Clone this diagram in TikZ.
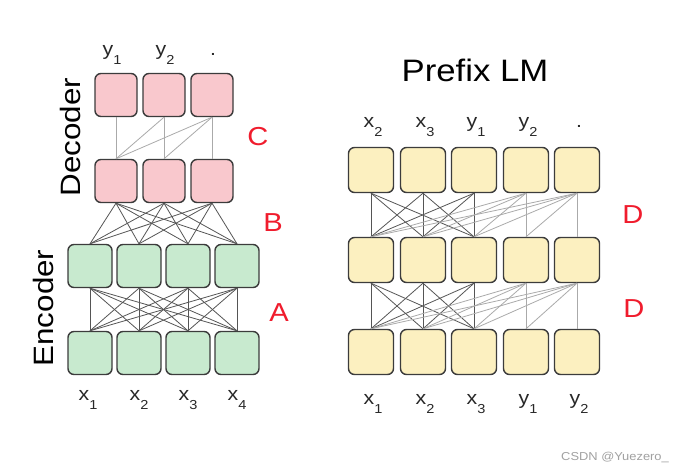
\documentclass[tikz,border=0pt]{standalone}
\usepackage{fontspec}
\setmainfont{Liberation Sans}[FakeStretch=1.12]
\newcommand\lowsub[1]{\raisebox{-9pt}{\fontsize{13}{13}\selectfont #1}}
\definecolor{pinkf}{RGB}{249,200,205}
\definecolor{greenf}{RGB}{200,234,207}
\definecolor{yellowf}{RGB}{252,240,192}
\definecolor{boxline}{RGB}{60,60,60}
\definecolor{darkl}{RGB}{85,85,85}
\definecolor{lightl}{RGB}{170,170,170}
\definecolor{redl}{RGB}{240,28,45}
\definecolor{txt}{RGB}{40,40,40}
\tikzset{
  cell/.style={draw=boxline, line width=1.4pt, rounded corners=6pt, minimum width=43pt, minimum height=43pt, inner sep=0pt},
  pinkcell/.style={cell, fill=pinkf, minimum width=42pt},
  greencell/.style={cell, fill=greenf, minimum width=44pt},
  yellowcell/.style={cell, fill=yellowf, minimum width=45pt, minimum height=45pt},
  dk/.style={draw=darkl, line width=0.8pt},
  lt/.style={draw=lightl, line width=0.8pt},
  tok/.style={anchor=base, inner sep=0pt, text=txt, font=\fontsize{19}{19}\selectfont},
  tag/.style={text=redl, inner sep=0pt, font=\fontsize{26}{26}\selectfont},
  side/.style={rotate=90, inner sep=0pt, text=black, font=\fontsize{28}{28}\selectfont}
}
\begin{document}
\begin{tikzpicture}[x=1pt,y=-1pt]
\useasboundingbox[fill=white] (0,0) rectangle (683,472);
% decoder
\foreach \i/\x in {1/116,2/164,3/212} {
  \node[pinkcell] (d\i) at (\x,95) {};
  \node[pinkcell] (e\i) at (\x,181) {};
}
% encoder
\foreach \i/\x in {1/90,2/139,3/188,4/237} {
  \node[greencell] (n\i) at (\x,266) {};
  \node[greencell] (m\i) at (\x,353) {};
}
% prefix LM
\foreach \i/\x in {1/371,2/423,3/474,4/526,5/577} {
  \node[yellowcell] (p\i) at (\x,170) {};
  \node[yellowcell] (q\i) at (\x,260) {};
  \node[yellowcell] (r\i) at (\x,352) {};
}
% C: causal decoder
\foreach \i in {1,2,3} {
  \foreach \j in {1,...,\i} { \draw[lt] (d\i.south) -- (e\j.north); }
}
% B: cross attention
\foreach \i in {1,2,3} {
  \foreach \j in {1,2,3,4} { \draw[dk] (e\i.south) -- (n\j.north); }
}
% A: encoder
\foreach \i in {1,2,3,4} {
  \foreach \j in {1,2,3,4} { \draw[dk] (m\j.north) -- (n\i.south); }
}
% D: prefix LM
\foreach \u/\l in {p/q,q/r} {
  \foreach \i in {1,2,3} {
    \foreach \j in {1,2,3} { \draw[dk] (\u\i.south) -- (\l\j.north); }
  }
  \foreach \i in {4,5} {
    \foreach \j in {1,...,\i} { \draw[lt] (\u\i.south) -- (\l\j.north); }
  }
}
% labels
\node[tok] (ly1) at (112,55) {y\lowsub{1}};
\node[tok] (ly2) at (165,55) {y\lowsub{2}};
\node[tok] (ldot) at (213,55) {.};
\foreach \i/\x in {1/88,2/139,3/188,4/237} { \node[tok] (lx\i) at (\x,400) {x\lowsub{\i}}; }
\node[side] (dec) at (70,137) {Decoder};
\node[side] (enc) at (43,308) {Encoder};
\node[tag] (C) at (258,137) {C};
\node[tag] (B) at (273,223) {B};
\node[tag] (A) at (279,313) {A};
\node[text=black, inner sep=0pt, font=\fontsize{31}{31}\selectfont] (title) at (475,70) {Prefix LM};
\node[tok] (t1) at (373,127) {x\lowsub{2}};
\node[tok] (t2) at (425,127) {x\lowsub{3}};
\node[tok] (t3) at (476,127) {y\lowsub{1}};
\node[tok] (t4) at (528,127) {y\lowsub{2}};
\node[tok] (t5) at (579,127) {.};
\node[tok] (b1) at (373,404) {x\lowsub{1}};
\node[tok] (b2) at (425,404) {x\lowsub{2}};
\node[tok] (b3) at (476,404) {x\lowsub{3}};
\node[tok] (b4) at (528,404) {y\lowsub{1}};
\node[tok] (b5) at (579,404) {y\lowsub{2}};
\node[tag] (D1) at (633,215) {D};
\node[tag] (D2) at (634,309) {D};
\node[text=lightl!80!gray, inner sep=0pt, font=\fontsize{11.5}{11.5}\selectfont] (wm) at (615,457) {CSDN @Yuezero\_};
\end{tikzpicture}
\end{document}
